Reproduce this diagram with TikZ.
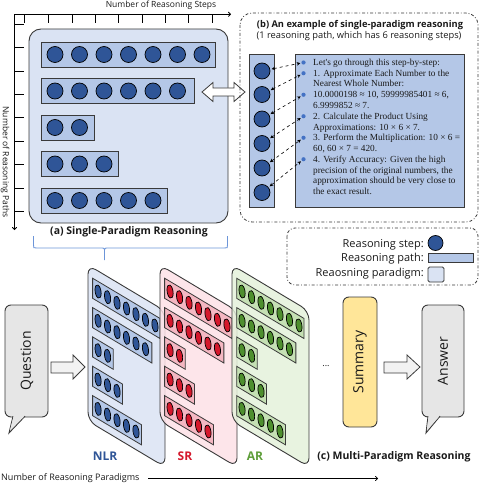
\documentclass[tikz,border=0pt]{standalone}
\usepackage{fontspec}
\setmainfont{Open Sans}
\newfontfamily\tms{Liberation Serif}
\usetikzlibrary{arrows.meta}
\definecolor{panelfill}{HTML}{DAE3F3}
\definecolor{rowfill}{HTML}{B4C7E7}
\definecolor{dotblue}{HTML}{2F5597}
\definecolor{bulletblue}{HTML}{4472C4}
\definecolor{bracecol}{HTML}{6C95D8}
\definecolor{pinkcard}{HTML}{FDE1E6}
\definecolor{pinkrow}{HTML}{F4B7C2}
\definecolor{reddot}{HTML}{D5182C}
\definecolor{greencard}{HTML}{E4F1DA}
\definecolor{greenrow}{HTML}{C5E0B4}
\definecolor{greendot}{HTML}{4E8F2E}
\definecolor{greenlab}{HTML}{5E9E3A}
\definecolor{bubblegray}{HTML}{E6E6E6}
\definecolor{sumyellow}{HTML}{FFE699}
\definecolor{arrowfill}{HTML}{F2F2F2}
\definecolor{edge}{HTML}{3A3A3A}
\definecolor{txt}{HTML}{1A1A1A}
\newcommand{\paradigmcontent}[5]{%
  \draw[panelbox, fill=#1, fill opacity=#4, rounded corners=#5] (29,29) rectangle (228,223);
  \foreach \ty/\rx/\n in {42/215/7, 78.5/194/6, 115/94/2, 151.5/118/3, 188/167/5}{
    \draw[rowbox, fill=#2] (41,\ty) rectangle (\rx,\ty+25);
    \foreach \k in {1,...,\n}{
      \draw[dotc, fill=#3] ({55+24.5*(\k-1)},\ty+12.5) circle (8pt);
    }
  }
}
\begin{document}
\begin{tikzpicture}[x=1pt,y=-1pt,
  axisline/.style={line width=0.8pt, draw=black},
  axisarrow/.style={line width=0.8pt, draw=black, -{To[length=3pt,width=5pt]}},
  panelbox/.style={draw=edge, line width=0.9pt},
  rowbox/.style={draw=edge, line width=0.8pt},
  dotc/.style={draw=black, line width=0.7pt},
  dashbox/.style={draw=edge, line width=0.8pt, dash dot, rounded corners=12pt},
  bubble/.style={draw=edge, fill=bubblegray, line width=0.9pt, rounded corners=6pt},
  blockarrow/.style={draw=edge, fill=arrowfill, line width=0.8pt},
  steparrow/.style={dashed, line width=0.6pt, {Stealth[length=3.5pt,width=3.5pt]}-{Stealth[length=3.5pt,width=3.5pt]}, shorten <=1.5pt, shorten >=1pt},
  stepdot/.style={circle, draw=black, line width=0.7pt, fill=dotblue, minimum size=16pt, inner sep=0pt},
  bullet/.style={circle, fill=bulletblue, minimum size=4.2pt, inner sep=0pt},
  axislabel/.style={font=\fontsize{8.5}{10}\selectfont, text=txt, inner sep=0pt},
  title/.style={font=\fontsize{10.5}{12}\selectfont\bfseries, text=txt, inner sep=0pt},
  bodytext/.style={font=\tms\fontsize{9.3}{10}\selectfont, text=txt, anchor=base west, inner sep=0pt},
  legendtext/.style={font=\fontsize{11}{13}\selectfont, text=txt, anchor=base east, inner sep=0pt},
  bigtext/.style={font=\fontsize{14}{16}\selectfont, text=txt, inner sep=0pt, rotate=90},
  paralabel/.style={font=\fontsize{12}{14}\selectfont\bfseries, inner sep=0pt},
]
\useasboundingbox (0,0) rectangle (479,484);

% ---------- axes of (a)
\draw[axisarrow] (14.5,14.3) -- (231,14.3);
\draw[axisarrow] (14.5,14.3) -- (14.5,230);
\foreach \x in {24,48,72,95,118,142,165,188,212} \draw[axisline] (\x,14.3) -- (\x,23.5);
\foreach \y in {24,47,71,94,117,141,164,188,211} \draw[axisline] (14.5,\y) -- (24,\y);
\node[axislabel] (xlab) at (161,5.5) {Number of Reasoning Steps};
\node[axislabel, rotate=-90] (ylab) at (5,162) {Number of Reasoning Paths};

% ---------- panel (a)
\paradigmcontent{panelfill}{rowfill}{dotblue}{1}{12pt}
\node[title] (atitle) at (129,232) {(a) Single-Paradigm Reasoning};

% brace
\draw[bracecol, line width=0.9pt]
  (33.5,236) -- (33.5,245) .. controls (33.5,248) .. (36.5,248) -- (101,248)
  .. controls (104.5,248) .. (104.5,252) -- (104.5,260);
\draw[bracecol, line width=0.9pt]
  (227.5,236) -- (227.5,245) .. controls (227.5,248) .. (224.5,248) -- (108,248)
  .. controls (104.5,248) .. (104.5,252);

% double arrow
\draw[blockarrow, fill=white] (202,92) -- (213,82.5) -- (213,88) -- (234,88) -- (234,82.5)
  -- (245,92) -- (234,101.5) -- (234,96) -- (213,96) -- (213,101.5) -- cycle;

% ---------- panel (b)
\draw[dashbox] (240,13) rectangle (478,222);
\node[font=\fontsize{9.3}{11}\selectfont\bfseries, text=txt, inner sep=0pt] (btitle) at (360,25) {(b) An example of single-paradigm reasoning};
\node[font=\fontsize{9.3}{11}\selectfont, text=txt, inner sep=0pt] (bsub) at (359,36.5) {(1 reasoning path, which has 6 reasoning steps)};
\draw[rowbox, fill=rowfill] (249,54) rectangle (274,207);
\draw[rowbox, fill=rowfill] (295,54) rectangle (464,207);
\foreach \i/\y in {1/71,2/94.5,3/119,4/143.5,5/168,6/192.5}
  \node[stepdot] (s\i) at (262,\y) {};
\foreach \i/\y in {1/62.5,2/73.25,3/94.75,4/116.25,5/137.75,6/159.25}
  \node[bullet] (b\i) at (303.5,\y) {};
\foreach \i in {1,...,6} \draw[steparrow] (s\i) -- (b\i);
\node[bodytext] (l0) at (313,65.5) {Let's go through this step-by-step:};
\node[bodytext] (l1) at (313,76.25) {1. Approximate Each Number to the};
\node[bodytext] (l2) at (313,87) {Nearest Whole Number:};
\node[bodytext] (l3) at (313,97.75) {10.0000198 ≈ 10, 59999985401 ≈ 6,};
\node[bodytext] (l4) at (313,108.5) {6.9999852 ≈ 7.};
\node[bodytext] (l5) at (313,119.25) {2. Calculate the Product Using};
\node[bodytext] (l6) at (313,130) {Approximations: 10 × 6 × 7.};
\node[bodytext] (l7) at (313,140.75) {3. Perform the Multiplication: 10 × 6 =};
\node[bodytext] (l8) at (313,151.5) {60, 60 × 7 = 420.};
\node[bodytext] (l9) at (313,162.25) {4. Verify Accuracy: Given the high};
\node[bodytext] (l10) at (313,173) {precision of the original numbers, the};
\node[bodytext] (l11) at (313,183.75) {approximation should be very close to};
\node[bodytext] (l12) at (313,194.5) {the exact result.};

% ---------- legend
\draw[dashbox, rounded corners=8pt] (287,228) rectangle (478,285);
\node[legendtext] (lg1) at (424,247) {Reasoning step:};
\node[legendtext] (lg2) at (424,261.5) {Reasoning path:};
\node[legendtext] (lg3) at (424,276) {Reaosning paradigm:};
\node[stepdot, minimum size=15pt] (lgdot) at (435.5,243) {};
\draw[rowbox, fill=rowfill] (428,253) rectangle (473,262);
\draw[rowbox, fill=panelfill, rounded corners=1.5pt] (428,267) rectangle (444,282);

% ---------- (c) multi-paradigm
% question bubble
\draw[bubble] (5,305) rectangle (48,417);
\filldraw[draw=edge, fill=bubblegray, line width=0.9pt] (13,416.2) -- (9,433) -- (25,416.2);
\fill[bubblegray] (13.6,416.6) -- (10,430) -- (24,416.6) -- cycle;
\node[bigtext] (question) at (27,361) {Question};
\draw[blockarrow] (51,362) -- (73,362) -- (73,355) -- (85,367) -- (73,379) -- (73,373) -- (51,373) -- cycle;

% paradigm cards
\begin{scope}[cm={0.387,-0.231,0,0.804,(76.78pt,-234.99pt)}]
  \paradigmcontent{panelfill}{rowfill}{dotblue}{0.85}{9pt}
\end{scope}
\begin{scope}[cm={0.387,-0.231,0,0.804,(148.78pt,-234.99pt)}]
  \paradigmcontent{pinkcard}{pinkrow}{reddot}{0.85}{9pt}
\end{scope}
\begin{scope}[cm={0.387,-0.231,0,0.804,(220.78pt,-234.99pt)}]
  \paradigmcontent{greencard}{greenrow}{greendot}{0.85}{9pt}
\end{scope}
\node[paralabel, text=dotblue] (nlr) at (105,456) {NLR};
\node[paralabel, text=reddot] (sr) at (185,456) {SR};
\node[paralabel, text=greenlab] (ar) at (255,456) {AR};

\node[font=\fontsize{9}{10}\selectfont, text=txt, inner sep=0pt] (dots) at (326,366) {...};

% summary
\draw[draw=edge, fill=sumyellow, line width=0.9pt, rounded corners=6pt] (343,297) rectangle (377,427);
\node[bigtext] (summary) at (360,362) {Summary};
\draw[blockarrow] (384,362) -- (407,362) -- (407,355) -- (420,367) -- (407,379) -- (407,373) -- (384,373) -- cycle;

% answer bubble
\draw[bubble] (422,305) rectangle (464,417);
\filldraw[draw=edge, fill=bubblegray, line width=0.9pt] (428,416.2) -- (426,433) -- (440,416.2);
\fill[bubblegray] (428.6,416.6) -- (426.8,430) -- (439,416.6) -- cycle;
\node[bigtext] (answer) at (443,361) {Answer};

\node[title] (ctitle) at (394,457) {(c) Multi-Paradigm Reasoning};

% bottom axis
\node[axislabel, font=\fontsize{9}{10}\selectfont, anchor=west] (plab) at (1,478) {Number of Reasoning Paradigms};
\coordinate (pstart) at (148,478.5);
\coordinate (pend) at (378,478.5);
\draw[axisarrow, line width=0.7pt] (pstart) -- (pend);
\end{tikzpicture}
\end{document}
